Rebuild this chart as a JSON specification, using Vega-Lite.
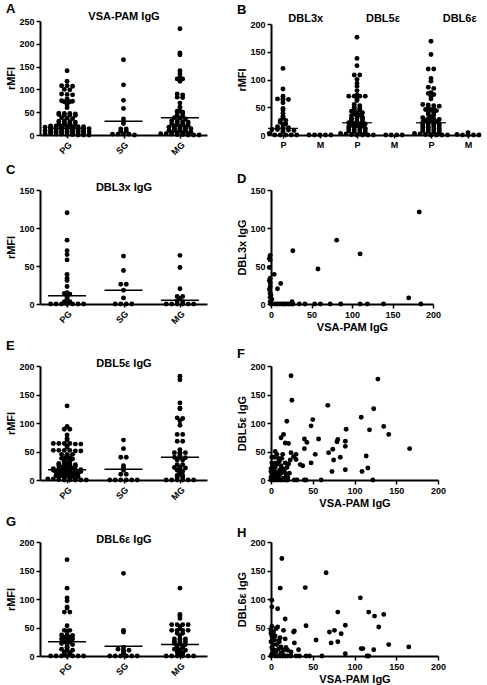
{
"$schema": "https://vega.github.io/schema/vega-lite/v6.json",
"autosize": {"type": "none"},
"padding": {"left": 40, "top": 14, "right": 447, "bottom": 671},
"columns": 2,
"spacing": {"row": 55, "column": 64},
"bounds": "flush",
"config": {
  "font": "Liberation Sans",
  "view": {"stroke": null},
  "axis": {"labelFontSize": 9, "labelFontWeight": "bold", "labelColor": "#000", "titleFontSize": 11, "titleFontWeight": "bold", "titleColor": "#000", "domainColor": "#000", "domainWidth": 2, "tickColor": "#000", "tickWidth": 1.5, "tickSize": 4, "grid": false, "labelPadding": 2, "titlePadding": 2, "labelOverlap": false, "labelFlush": false},
  "title": {"fontSize": 13, "fontWeight": "bold", "anchor": "start", "frame": "bounds", "offset": 0, "color": "#000"}
},
"datasets": {
"sw": [
{"p":"A","g":"PG","v":141},{"p":"A","g":"PG","v":118},{"p":"A","g":"PG","v":108},{"p":"A","g":"PG","v":108},{"p":"A","g":"PG","v":107},{"p":"A","g":"PG","v":100},{"p":"A","g":"PG","v":99},{"p":"A","g":"PG","v":90},{"p":"A","g":"PG","v":89},{"p":"A","g":"PG","v":88},{"p":"A","g":"PG","v":79},{"p":"A","g":"PG","v":75},{"p":"A","g":"PG","v":74},{"p":"A","g":"PG","v":74},{"p":"A","g":"PG","v":73},{"p":"A","g":"PG","v":73},{"p":"A","g":"PG","v":66},{"p":"A","g":"PG","v":60},{"p":"A","g":"PG","v":48},{"p":"A","g":"PG","v":47},{"p":"A","g":"PG","v":47},{"p":"A","g":"PG","v":46},{"p":"A","g":"PG","v":45},{"p":"A","g":"PG","v":44},{"p":"A","g":"PG","v":44},{"p":"A","g":"PG","v":43},{"p":"A","g":"PG","v":38},{"p":"A","g":"PG","v":37},{"p":"A","g":"PG","v":36},{"p":"A","g":"PG","v":30},{"p":"A","g":"PG","v":30},{"p":"A","g":"PG","v":29},{"p":"A","g":"PG","v":28},{"p":"A","g":"PG","v":26},{"p":"A","g":"PG","v":25},{"p":"A","g":"PG","v":24},{"p":"A","g":"PG","v":23},{"p":"A","g":"PG","v":22},{"p":"A","g":"PG","v":21},{"p":"A","g":"PG","v":20},{"p":"A","g":"PG","v":20},{"p":"A","g":"PG","v":19},{"p":"A","g":"PG","v":19},{"p":"A","g":"PG","v":18},{"p":"A","g":"PG","v":18},{"p":"A","g":"PG","v":18},{"p":"A","g":"PG","v":17},{"p":"A","g":"PG","v":17},{"p":"A","g":"PG","v":16},{"p":"A","g":"PG","v":16},{"p":"A","g":"PG","v":16},{"p":"A","g":"PG","v":15},{"p":"A","g":"PG","v":15},{"p":"A","g":"PG","v":14},{"p":"A","g":"PG","v":14},{"p":"A","g":"PG","v":13},{"p":"A","g":"PG","v":13},{"p":"A","g":"PG","v":12},{"p":"A","g":"PG","v":12},{"p":"A","g":"PG","v":12},{"p":"A","g":"PG","v":11},{"p":"A","g":"PG","v":11},{"p":"A","g":"PG","v":10},{"p":"A","g":"PG","v":10},{"p":"A","g":"PG","v":9},{"p":"A","g":"PG","v":9},{"p":"A","g":"PG","v":8},{"p":"A","g":"PG","v":8},{"p":"A","g":"PG","v":8},{"p":"A","g":"PG","v":7},{"p":"A","g":"PG","v":7},{"p":"A","g":"PG","v":6},{"p":"A","g":"PG","v":6},{"p":"A","g":"PG","v":5},{"p":"A","g":"PG","v":5},{"p":"A","g":"PG","v":4},{"p":"A","g":"PG","v":4},{"p":"A","g":"PG","v":4},{"p":"A","g":"PG","v":3},{"p":"A","g":"PG","v":3},{"p":"A","g":"PG","v":2},{"p":"A","g":"PG","v":2},{"p":"A","g":"PG","v":1},{"p":"A","g":"PG","v":1},{"p":"A","g":"PG","v":0},{"p":"A","g":"PG","v":0},{"p":"A","g":"PG","v":0},
{"p":"A","g":"SG","v":165},{"p":"A","g":"SG","v":110},{"p":"A","g":"SG","v":76},{"p":"A","g":"SG","v":58},{"p":"A","g":"SG","v":35},{"p":"A","g":"SG","v":29},{"p":"A","g":"SG","v":25},{"p":"A","g":"SG","v":13},{"p":"A","g":"SG","v":13},{"p":"A","g":"SG","v":8},{"p":"A","g":"SG","v":8},{"p":"A","g":"SG","v":2},{"p":"A","g":"SG","v":2},{"p":"A","g":"SG","v":2},{"p":"A","g":"SG","v":2},{"p":"A","g":"SG","v":0},
{"p":"A","g":"MG","v":233},{"p":"A","g":"MG","v":180},{"p":"A","g":"MG","v":176},{"p":"A","g":"MG","v":141},{"p":"A","g":"MG","v":134},{"p":"A","g":"MG","v":127},{"p":"A","g":"MG","v":123},{"p":"A","g":"MG","v":123},{"p":"A","g":"MG","v":118},{"p":"A","g":"MG","v":90},{"p":"A","g":"MG","v":88},{"p":"A","g":"MG","v":83},{"p":"A","g":"MG","v":82},{"p":"A","g":"MG","v":70},{"p":"A","g":"MG","v":61},{"p":"A","g":"MG","v":53},{"p":"A","g":"MG","v":52},{"p":"A","g":"MG","v":50},{"p":"A","g":"MG","v":48},{"p":"A","g":"MG","v":48},{"p":"A","g":"MG","v":44},{"p":"A","g":"MG","v":42},{"p":"A","g":"MG","v":38},{"p":"A","g":"MG","v":37},{"p":"A","g":"MG","v":35},{"p":"A","g":"MG","v":31},{"p":"A","g":"MG","v":30},{"p":"A","g":"MG","v":29},{"p":"A","g":"MG","v":28},{"p":"A","g":"MG","v":27},{"p":"A","g":"MG","v":25},{"p":"A","g":"MG","v":24},{"p":"A","g":"MG","v":23},{"p":"A","g":"MG","v":22},{"p":"A","g":"MG","v":21},{"p":"A","g":"MG","v":20},{"p":"A","g":"MG","v":19},{"p":"A","g":"MG","v":18},{"p":"A","g":"MG","v":17},{"p":"A","g":"MG","v":16},{"p":"A","g":"MG","v":15},{"p":"A","g":"MG","v":15},{"p":"A","g":"MG","v":14},{"p":"A","g":"MG","v":13},{"p":"A","g":"MG","v":12},{"p":"A","g":"MG","v":11},{"p":"A","g":"MG","v":10},{"p":"A","g":"MG","v":10},{"p":"A","g":"MG","v":9},{"p":"A","g":"MG","v":8},{"p":"A","g":"MG","v":7},{"p":"A","g":"MG","v":6},{"p":"A","g":"MG","v":5},{"p":"A","g":"MG","v":5},{"p":"A","g":"MG","v":4},{"p":"A","g":"MG","v":3},{"p":"A","g":"MG","v":3},{"p":"A","g":"MG","v":2},{"p":"A","g":"MG","v":1},{"p":"A","g":"MG","v":1},{"p":"A","g":"MG","v":0},{"p":"A","g":"MG","v":0},{"p":"A","g":"MG","v":0},
{"p":"B","g":"DBL3x P","v":120},{"p":"B","g":"DBL3x P","v":83},{"p":"B","g":"DBL3x P","v":70},{"p":"B","g":"DBL3x P","v":65},{"p":"B","g":"DBL3x P","v":65},{"p":"B","g":"DBL3x P","v":64},{"p":"B","g":"DBL3x P","v":63},{"p":"B","g":"DBL3x P","v":58},{"p":"B","g":"DBL3x P","v":48},{"p":"B","g":"DBL3x P","v":45},{"p":"B","g":"DBL3x P","v":39},{"p":"B","g":"DBL3x P","v":34},{"p":"B","g":"DBL3x P","v":31},{"p":"B","g":"DBL3x P","v":26},{"p":"B","g":"DBL3x P","v":26},{"p":"B","g":"DBL3x P","v":23},{"p":"B","g":"DBL3x P","v":20},{"p":"B","g":"DBL3x P","v":19},{"p":"B","g":"DBL3x P","v":15},{"p":"B","g":"DBL3x P","v":14},{"p":"B","g":"DBL3x P","v":13},{"p":"B","g":"DBL3x P","v":10},{"p":"B","g":"DBL3x P","v":10},{"p":"B","g":"DBL3x P","v":9},{"p":"B","g":"DBL3x P","v":9},{"p":"B","g":"DBL3x P","v":8},{"p":"B","g":"DBL3x P","v":6},{"p":"B","g":"DBL3x P","v":3},{"p":"B","g":"DBL3x P","v":0},{"p":"B","g":"DBL3x P","v":0},{"p":"B","g":"DBL3x P","v":0},{"p":"B","g":"DBL3x P","v":0},{"p":"B","g":"DBL3x P","v":0},
{"p":"B","g":"DBL3x M","v":0},{"p":"B","g":"DBL3x M","v":0},{"p":"B","g":"DBL3x M","v":0},{"p":"B","g":"DBL3x M","v":0},{"p":"B","g":"DBL3x M","v":0},
{"p":"B","g":"DBL5ε P","v":176},{"p":"B","g":"DBL5ε P","v":138},{"p":"B","g":"DBL5ε P","v":125},{"p":"B","g":"DBL5ε P","v":108},{"p":"B","g":"DBL5ε P","v":108},{"p":"B","g":"DBL5ε P","v":100},{"p":"B","g":"DBL5ε P","v":93},{"p":"B","g":"DBL5ε P","v":88},{"p":"B","g":"DBL5ε P","v":80},{"p":"B","g":"DBL5ε P","v":72},{"p":"B","g":"DBL5ε P","v":70},{"p":"B","g":"DBL5ε P","v":70},{"p":"B","g":"DBL5ε P","v":70},{"p":"B","g":"DBL5ε P","v":70},{"p":"B","g":"DBL5ε P","v":65},{"p":"B","g":"DBL5ε P","v":62},{"p":"B","g":"DBL5ε P","v":55},{"p":"B","g":"DBL5ε P","v":53},{"p":"B","g":"DBL5ε P","v":50},{"p":"B","g":"DBL5ε P","v":48},{"p":"B","g":"DBL5ε P","v":46},{"p":"B","g":"DBL5ε P","v":45},{"p":"B","g":"DBL5ε P","v":43},{"p":"B","g":"DBL5ε P","v":40},{"p":"B","g":"DBL5ε P","v":40},{"p":"B","g":"DBL5ε P","v":38},{"p":"B","g":"DBL5ε P","v":36},{"p":"B","g":"DBL5ε P","v":35},{"p":"B","g":"DBL5ε P","v":34},{"p":"B","g":"DBL5ε P","v":32},{"p":"B","g":"DBL5ε P","v":30},{"p":"B","g":"DBL5ε P","v":30},{"p":"B","g":"DBL5ε P","v":28},{"p":"B","g":"DBL5ε P","v":27},{"p":"B","g":"DBL5ε P","v":25},{"p":"B","g":"DBL5ε P","v":24},{"p":"B","g":"DBL5ε P","v":22},{"p":"B","g":"DBL5ε P","v":21},{"p":"B","g":"DBL5ε P","v":20},{"p":"B","g":"DBL5ε P","v":20},{"p":"B","g":"DBL5ε P","v":18},{"p":"B","g":"DBL5ε P","v":17},{"p":"B","g":"DBL5ε P","v":16},{"p":"B","g":"DBL5ε P","v":15},{"p":"B","g":"DBL5ε P","v":14},{"p":"B","g":"DBL5ε P","v":13},{"p":"B","g":"DBL5ε P","v":12},{"p":"B","g":"DBL5ε P","v":11},{"p":"B","g":"DBL5ε P","v":10},{"p":"B","g":"DBL5ε P","v":9},{"p":"B","g":"DBL5ε P","v":8},{"p":"B","g":"DBL5ε P","v":7},{"p":"B","g":"DBL5ε P","v":6},{"p":"B","g":"DBL5ε P","v":5},{"p":"B","g":"DBL5ε P","v":4},{"p":"B","g":"DBL5ε P","v":3},{"p":"B","g":"DBL5ε P","v":2},{"p":"B","g":"DBL5ε P","v":1},{"p":"B","g":"DBL5ε P","v":0},{"p":"B","g":"DBL5ε P","v":0},{"p":"B","g":"DBL5ε P","v":0},{"p":"B","g":"DBL5ε P","v":0},
{"p":"B","g":"DBL5ε M","v":0},{"p":"B","g":"DBL5ε M","v":0},{"p":"B","g":"DBL5ε M","v":0},{"p":"B","g":"DBL5ε M","v":0},
{"p":"B","g":"DBL6ε P","v":169},{"p":"B","g":"DBL6ε P","v":145},{"p":"B","g":"DBL6ε P","v":119},{"p":"B","g":"DBL6ε P","v":119},{"p":"B","g":"DBL6ε P","v":102},{"p":"B","g":"DBL6ε P","v":97},{"p":"B","g":"DBL6ε P","v":86},{"p":"B","g":"DBL6ε P","v":84},{"p":"B","g":"DBL6ε P","v":76},{"p":"B","g":"DBL6ε P","v":75},{"p":"B","g":"DBL6ε P","v":73},{"p":"B","g":"DBL6ε P","v":70},{"p":"B","g":"DBL6ε P","v":65},{"p":"B","g":"DBL6ε P","v":55},{"p":"B","g":"DBL6ε P","v":54},{"p":"B","g":"DBL6ε P","v":53},{"p":"B","g":"DBL6ε P","v":52},{"p":"B","g":"DBL6ε P","v":50},{"p":"B","g":"DBL6ε P","v":48},{"p":"B","g":"DBL6ε P","v":46},{"p":"B","g":"DBL6ε P","v":45},{"p":"B","g":"DBL6ε P","v":44},{"p":"B","g":"DBL6ε P","v":42},{"p":"B","g":"DBL6ε P","v":40},{"p":"B","g":"DBL6ε P","v":38},{"p":"B","g":"DBL6ε P","v":36},{"p":"B","g":"DBL6ε P","v":33},{"p":"B","g":"DBL6ε P","v":31},{"p":"B","g":"DBL6ε P","v":30},{"p":"B","g":"DBL6ε P","v":29},{"p":"B","g":"DBL6ε P","v":28},{"p":"B","g":"DBL6ε P","v":26},{"p":"B","g":"DBL6ε P","v":25},{"p":"B","g":"DBL6ε P","v":24},{"p":"B","g":"DBL6ε P","v":23},{"p":"B","g":"DBL6ε P","v":22},{"p":"B","g":"DBL6ε P","v":21},{"p":"B","g":"DBL6ε P","v":20},{"p":"B","g":"DBL6ε P","v":19},{"p":"B","g":"DBL6ε P","v":18},{"p":"B","g":"DBL6ε P","v":17},{"p":"B","g":"DBL6ε P","v":16},{"p":"B","g":"DBL6ε P","v":15},{"p":"B","g":"DBL6ε P","v":14},{"p":"B","g":"DBL6ε P","v":13},{"p":"B","g":"DBL6ε P","v":12},{"p":"B","g":"DBL6ε P","v":11},{"p":"B","g":"DBL6ε P","v":10},{"p":"B","g":"DBL6ε P","v":9},{"p":"B","g":"DBL6ε P","v":8},{"p":"B","g":"DBL6ε P","v":7},{"p":"B","g":"DBL6ε P","v":6},{"p":"B","g":"DBL6ε P","v":5},{"p":"B","g":"DBL6ε P","v":4},{"p":"B","g":"DBL6ε P","v":3},{"p":"B","g":"DBL6ε P","v":2},{"p":"B","g":"DBL6ε P","v":1},{"p":"B","g":"DBL6ε P","v":0},{"p":"B","g":"DBL6ε P","v":0},{"p":"B","g":"DBL6ε P","v":0},{"p":"B","g":"DBL6ε P","v":0},
{"p":"B","g":"DBL6ε M","v":4},{"p":"B","g":"DBL6ε M","v":1},{"p":"B","g":"DBL6ε M","v":0},{"p":"B","g":"DBL6ε M","v":0},{"p":"B","g":"DBL6ε M","v":0},{"p":"B","g":"DBL6ε M","v":0},
{"p":"C","g":"PG","v":120},{"p":"C","g":"PG","v":84},{"p":"C","g":"PG","v":70},{"p":"C","g":"PG","v":65},{"p":"C","g":"PG","v":58},{"p":"C","g":"PG","v":39},{"p":"C","g":"PG","v":34},{"p":"C","g":"PG","v":31},{"p":"C","g":"PG","v":23},{"p":"C","g":"PG","v":15},{"p":"C","g":"PG","v":14},{"p":"C","g":"PG","v":13},{"p":"C","g":"PG","v":10},{"p":"C","g":"PG","v":8},{"p":"C","g":"PG","v":6},{"p":"C","g":"PG","v":3},{"p":"C","g":"PG","v":3},{"p":"C","g":"PG","v":0},{"p":"C","g":"PG","v":0},{"p":"C","g":"PG","v":0},{"p":"C","g":"PG","v":0},{"p":"C","g":"PG","v":0},{"p":"C","g":"PG","v":0},{"p":"C","g":"PG","v":0},
{"p":"C","g":"SG","v":63},{"p":"C","g":"SG","v":44},{"p":"C","g":"SG","v":26},{"p":"C","g":"SG","v":26},{"p":"C","g":"SG","v":18},{"p":"C","g":"SG","v":8},{"p":"C","g":"SG","v":0},{"p":"C","g":"SG","v":0},{"p":"C","g":"SG","v":0},{"p":"C","g":"SG","v":0},
{"p":"C","g":"MG","v":64},{"p":"C","g":"MG","v":48},{"p":"C","g":"MG","v":20},{"p":"C","g":"MG","v":10},{"p":"C","g":"MG","v":10},{"p":"C","g":"MG","v":7},{"p":"C","g":"MG","v":4},{"p":"C","g":"MG","v":3},{"p":"C","g":"MG","v":0},{"p":"C","g":"MG","v":0},{"p":"C","g":"MG","v":0},{"p":"C","g":"MG","v":0},{"p":"C","g":"MG","v":0},{"p":"C","g":"MG","v":0},
{"p":"E","g":"PG","v":130},{"p":"E","g":"PG","v":94},{"p":"E","g":"PG","v":89},{"p":"E","g":"PG","v":89},{"p":"E","g":"PG","v":79},{"p":"E","g":"PG","v":73},{"p":"E","g":"PG","v":70},{"p":"E","g":"PG","v":64},{"p":"E","g":"PG","v":64},{"p":"E","g":"PG","v":64},{"p":"E","g":"PG","v":64},{"p":"E","g":"PG","v":63},{"p":"E","g":"PG","v":63},{"p":"E","g":"PG","v":60},{"p":"E","g":"PG","v":58},{"p":"E","g":"PG","v":52},{"p":"E","g":"PG","v":52},{"p":"E","g":"PG","v":52},{"p":"E","g":"PG","v":52},{"p":"E","g":"PG","v":51},{"p":"E","g":"PG","v":51},{"p":"E","g":"PG","v":45},{"p":"E","g":"PG","v":45},{"p":"E","g":"PG","v":45},{"p":"E","g":"PG","v":44},{"p":"E","g":"PG","v":39},{"p":"E","g":"PG","v":39},{"p":"E","g":"PG","v":38},{"p":"E","g":"PG","v":38},{"p":"E","g":"PG","v":37},{"p":"E","g":"PG","v":33},{"p":"E","g":"PG","v":33},{"p":"E","g":"PG","v":30},{"p":"E","g":"PG","v":29},{"p":"E","g":"PG","v":28},{"p":"E","g":"PG","v":28},{"p":"E","g":"PG","v":27},{"p":"E","g":"PG","v":26},{"p":"E","g":"PG","v":25},{"p":"E","g":"PG","v":24},{"p":"E","g":"PG","v":24},{"p":"E","g":"PG","v":23},{"p":"E","g":"PG","v":22},{"p":"E","g":"PG","v":21},{"p":"E","g":"PG","v":20},{"p":"E","g":"PG","v":20},{"p":"E","g":"PG","v":19},{"p":"E","g":"PG","v":19},{"p":"E","g":"PG","v":18},{"p":"E","g":"PG","v":18},{"p":"E","g":"PG","v":17},{"p":"E","g":"PG","v":17},{"p":"E","g":"PG","v":16},{"p":"E","g":"PG","v":16},{"p":"E","g":"PG","v":15},{"p":"E","g":"PG","v":15},{"p":"E","g":"PG","v":14},{"p":"E","g":"PG","v":14},{"p":"E","g":"PG","v":13},{"p":"E","g":"PG","v":12},{"p":"E","g":"PG","v":12},{"p":"E","g":"PG","v":11},{"p":"E","g":"PG","v":10},{"p":"E","g":"PG","v":10},{"p":"E","g":"PG","v":9},{"p":"E","g":"PG","v":8},{"p":"E","g":"PG","v":8},{"p":"E","g":"PG","v":7},{"p":"E","g":"PG","v":6},{"p":"E","g":"PG","v":6},{"p":"E","g":"PG","v":5},{"p":"E","g":"PG","v":4},{"p":"E","g":"PG","v":4},{"p":"E","g":"PG","v":3},{"p":"E","g":"PG","v":2},{"p":"E","g":"PG","v":2},{"p":"E","g":"PG","v":1},{"p":"E","g":"PG","v":0},{"p":"E","g":"PG","v":0},{"p":"E","g":"PG","v":0},{"p":"E","g":"PG","v":0},{"p":"E","g":"PG","v":0},
{"p":"E","g":"SG","v":70},{"p":"E","g":"SG","v":55},{"p":"E","g":"SG","v":40},{"p":"E","g":"SG","v":40},{"p":"E","g":"SG","v":25},{"p":"E","g":"SG","v":22},{"p":"E","g":"SG","v":17},{"p":"E","g":"SG","v":10},{"p":"E","g":"SG","v":10},{"p":"E","g":"SG","v":0},{"p":"E","g":"SG","v":0},{"p":"E","g":"SG","v":0},{"p":"E","g":"SG","v":0},{"p":"E","g":"SG","v":0},{"p":"E","g":"SG","v":0},
{"p":"E","g":"MG","v":182},{"p":"E","g":"MG","v":176},{"p":"E","g":"MG","v":135},{"p":"E","g":"MG","v":126},{"p":"E","g":"MG","v":125},{"p":"E","g":"MG","v":109},{"p":"E","g":"MG","v":108},{"p":"E","g":"MG","v":104},{"p":"E","g":"MG","v":96},{"p":"E","g":"MG","v":80},{"p":"E","g":"MG","v":80},{"p":"E","g":"MG","v":68},{"p":"E","g":"MG","v":68},{"p":"E","g":"MG","v":53},{"p":"E","g":"MG","v":48},{"p":"E","g":"MG","v":48},{"p":"E","g":"MG","v":48},{"p":"E","g":"MG","v":47},{"p":"E","g":"MG","v":43},{"p":"E","g":"MG","v":40},{"p":"E","g":"MG","v":40},{"p":"E","g":"MG","v":39},{"p":"E","g":"MG","v":35},{"p":"E","g":"MG","v":35},{"p":"E","g":"MG","v":27},{"p":"E","g":"MG","v":27},{"p":"E","g":"MG","v":22},{"p":"E","g":"MG","v":22},{"p":"E","g":"MG","v":21},{"p":"E","g":"MG","v":20},{"p":"E","g":"MG","v":17},{"p":"E","g":"MG","v":15},{"p":"E","g":"MG","v":14},{"p":"E","g":"MG","v":10},{"p":"E","g":"MG","v":8},{"p":"E","g":"MG","v":8},{"p":"E","g":"MG","v":5},{"p":"E","g":"MG","v":4},{"p":"E","g":"MG","v":0},{"p":"E","g":"MG","v":0},{"p":"E","g":"MG","v":0},{"p":"E","g":"MG","v":0},{"p":"E","g":"MG","v":0},{"p":"E","g":"MG","v":0},
{"p":"G","g":"PG","v":169},{"p":"G","g":"PG","v":119},{"p":"G","g":"PG","v":102},{"p":"G","g":"PG","v":97},{"p":"G","g":"PG","v":86},{"p":"G","g":"PG","v":84},{"p":"G","g":"PG","v":77},{"p":"G","g":"PG","v":77},{"p":"G","g":"PG","v":53},{"p":"G","g":"PG","v":45},{"p":"G","g":"PG","v":45},{"p":"G","g":"PG","v":44},{"p":"G","g":"PG","v":37},{"p":"G","g":"PG","v":37},{"p":"G","g":"PG","v":36},{"p":"G","g":"PG","v":33},{"p":"G","g":"PG","v":33},{"p":"G","g":"PG","v":30},{"p":"G","g":"PG","v":30},{"p":"G","g":"PG","v":30},{"p":"G","g":"PG","v":25},{"p":"G","g":"PG","v":25},{"p":"G","g":"PG","v":22},{"p":"G","g":"PG","v":22},{"p":"G","g":"PG","v":20},{"p":"G","g":"PG","v":18},{"p":"G","g":"PG","v":15},{"p":"G","g":"PG","v":14},{"p":"G","g":"PG","v":12},{"p":"G","g":"PG","v":10},{"p":"G","g":"PG","v":10},{"p":"G","g":"PG","v":7},{"p":"G","g":"PG","v":6},{"p":"G","g":"PG","v":4},{"p":"G","g":"PG","v":3},{"p":"G","g":"PG","v":0},{"p":"G","g":"PG","v":0},{"p":"G","g":"PG","v":0},{"p":"G","g":"PG","v":0},{"p":"G","g":"PG","v":0},{"p":"G","g":"PG","v":0},{"p":"G","g":"PG","v":0},
{"p":"G","g":"SG","v":145},{"p":"G","g":"SG","v":45},{"p":"G","g":"SG","v":42},{"p":"G","g":"SG","v":15},{"p":"G","g":"SG","v":12},{"p":"G","g":"SG","v":10},{"p":"G","g":"SG","v":10},{"p":"G","g":"SG","v":8},{"p":"G","g":"SG","v":5},{"p":"G","g":"SG","v":0},{"p":"G","g":"SG","v":0},{"p":"G","g":"SG","v":0},{"p":"G","g":"SG","v":0},{"p":"G","g":"SG","v":0},{"p":"G","g":"SG","v":0},
{"p":"G","g":"MG","v":119},{"p":"G","g":"MG","v":73},{"p":"G","g":"MG","v":70},{"p":"G","g":"MG","v":66},{"p":"G","g":"MG","v":55},{"p":"G","g":"MG","v":55},{"p":"G","g":"MG","v":55},{"p":"G","g":"MG","v":55},{"p":"G","g":"MG","v":52},{"p":"G","g":"MG","v":48},{"p":"G","g":"MG","v":45},{"p":"G","g":"MG","v":45},{"p":"G","g":"MG","v":45},{"p":"G","g":"MG","v":45},{"p":"G","g":"MG","v":40},{"p":"G","g":"MG","v":40},{"p":"G","g":"MG","v":36},{"p":"G","g":"MG","v":30},{"p":"G","g":"MG","v":30},{"p":"G","g":"MG","v":30},{"p":"G","g":"MG","v":28},{"p":"G","g":"MG","v":25},{"p":"G","g":"MG","v":25},{"p":"G","g":"MG","v":25},{"p":"G","g":"MG","v":22},{"p":"G","g":"MG","v":22},{"p":"G","g":"MG","v":20},{"p":"G","g":"MG","v":18},{"p":"G","g":"MG","v":18},{"p":"G","g":"MG","v":15},{"p":"G","g":"MG","v":15},{"p":"G","g":"MG","v":12},{"p":"G","g":"MG","v":10},{"p":"G","g":"MG","v":10},{"p":"G","g":"MG","v":8},{"p":"G","g":"MG","v":7},{"p":"G","g":"MG","v":5},{"p":"G","g":"MG","v":3},{"p":"G","g":"MG","v":0},{"p":"G","g":"MG","v":0},{"p":"G","g":"MG","v":0},{"p":"G","g":"MG","v":0},{"p":"G","g":"MG","v":0},{"p":"G","g":"MG","v":0},
{"p":"A","g":"PG","v":15,"k":"median"},{"p":"A","g":"SG","v":30,"k":"median"},{"p":"A","g":"MG","v":38,"k":"median"},
{"p":"B","g":"DBL3x P","v":12,"k":"median"},{"p":"B","g":"DBL5ε P","v":22,"k":"median"},{"p":"B","g":"DBL6ε P","v":22,"k":"median"},
{"p":"C","g":"PG","v":11,"k":"median"},{"p":"C","g":"SG","v":18,"k":"median"},{"p":"C","g":"MG","v":5,"k":"median"},
{"p":"E","g":"PG","v":18,"k":"median"},{"p":"E","g":"SG","v":19,"k":"median"},{"p":"E","g":"MG","v":40,"k":"median"},
{"p":"G","g":"PG","v":25,"k":"median"},{"p":"G","g":"SG","v":17,"k":"median"},{"p":"G","g":"MG","v":20,"k":"median"}
],
"sc": [
{"p":"D","x":183,"y":121},{"p":"D","x":81,"y":84},{"p":"D","x":27,"y":70},{"p":"D","x":110,"y":66},{"p":"D","x":58,"y":46},{"p":"D","x":4,"y":39},{"p":"D","x":12,"y":27},{"p":"D","x":8,"y":20},{"p":"D","x":170,"y":8},{"p":"D","x":26,"y":3},
{"p":"D","x":-1,"y":64},{"p":"D","x":-2,"y":60},{"p":"D","x":-1,"y":58},{"p":"D","x":-2,"y":48},{"p":"D","x":-1,"y":34},{"p":"D","x":-2,"y":31},{"p":"D","x":-1,"y":28},{"p":"D","x":-1,"y":23},{"p":"D","x":-2,"y":19},{"p":"D","x":-1,"y":14},{"p":"D","x":0,"y":12},{"p":"D","x":-1,"y":9},{"p":"D","x":1,"y":6},{"p":"D","x":-1,"y":3},{"p":"D","x":0,"y":1},
{"p":"D","x":0,"y":0},{"p":"D","x":1,"y":0},{"p":"D","x":5,"y":0},{"p":"D","x":8,"y":0},{"p":"D","x":11,"y":0},{"p":"D","x":14,"y":0},{"p":"D","x":16,"y":0},{"p":"D","x":19,"y":0},{"p":"D","x":22,"y":0},{"p":"D","x":25,"y":0},{"p":"D","x":27,"y":0},{"p":"D","x":35,"y":0},{"p":"D","x":42,"y":0},{"p":"D","x":54,"y":0},{"p":"D","x":61,"y":0},{"p":"D","x":73,"y":0},{"p":"D","x":86,"y":0},{"p":"D","x":110,"y":0},{"p":"D","x":119,"y":0},{"p":"D","x":139,"y":0},{"p":"D","x":185,"y":0},
{"p":"F","x":24,"y":183},{"p":"F","x":128,"y":177},{"p":"F","x":25,"y":140},{"p":"F","x":68,"y":131},{"p":"F","x":123,"y":125},{"p":"F","x":108,"y":110},{"p":"F","x":50,"y":106},{"p":"F","x":19,"y":103},{"p":"F","x":48,"y":95},{"p":"F","x":135,"y":94},{"p":"F","x":90,"y":89},{"p":"F","x":118,"y":88},{"p":"F","x":141,"y":80},{"p":"F","x":15,"y":80},{"p":"F","x":12,"y":74},{"p":"F","x":40,"y":72},{"p":"F","x":57,"y":72},{"p":"F","x":80,"y":71},{"p":"F","x":79,"y":67},{"p":"F","x":43,"y":66},{"p":"F","x":17,"y":65},{"p":"F","x":21,"y":64},{"p":"F","x":89,"y":68},{"p":"F","x":89,"y":59},{"p":"F","x":74,"y":54},{"p":"F","x":40,"y":55},{"p":"F","x":166,"y":55},{"p":"F","x":5,"y":50},{"p":"F","x":69,"y":48},{"p":"F","x":53,"y":45},{"p":"F","x":24,"y":48},{"p":"F","x":30,"y":45},{"p":"F","x":27,"y":41},{"p":"F","x":114,"y":42},{"p":"F","x":83,"y":40},{"p":"F","x":14,"y":45},{"p":"F","x":75,"y":35},{"p":"F","x":30,"y":36},{"p":"F","x":4,"y":40},{"p":"F","x":35,"y":27},{"p":"F","x":38,"y":25},{"p":"F","x":48,"y":30},{"p":"F","x":116,"y":21},{"p":"F","x":89,"y":18},{"p":"F","x":73,"y":15},{"p":"F","x":109,"y":15},{"p":"F","x":19,"y":9},{"p":"F","x":122,"y":0},{"p":"F","x":60,"y":0},{"p":"F","x":42,"y":0},{"p":"F","x":40,"y":0},{"p":"F","x":31,"y":0},{"p":"F","x":28,"y":0},{"p":"F","x":20,"y":0},
{"p":"F","x":1,"y":30},{"p":"F","x":2,"y":25},{"p":"F","x":3,"y":20},{"p":"F","x":4,"y":15},{"p":"F","x":5,"y":10},{"p":"F","x":6,"y":5},{"p":"F","x":7,"y":2},{"p":"F","x":1,"y":12},{"p":"F","x":2,"y":8},{"p":"F","x":3,"y":3},{"p":"F","x":0,"y":0},{"p":"F","x":1,"y":1},{"p":"F","x":2,"y":18},{"p":"F","x":5,"y":22},{"p":"F","x":8,"y":28},{"p":"F","x":10,"y":33},{"p":"F","x":12,"y":25},{"p":"F","x":14,"y":20},{"p":"F","x":16,"y":15},{"p":"F","x":18,"y":10},{"p":"F","x":20,"y":5},{"p":"F","x":22,"y":12},{"p":"F","x":15,"y":3},{"p":"F","x":10,"y":8},{"p":"F","x":8,"y":14},{"p":"F","x":6,"y":30},{"p":"F","x":11,"y":18},{"p":"F","x":13,"y":38},{"p":"F","x":17,"y":30},{"p":"F","x":19,"y":22},{"p":"F","x":21,"y":28},{"p":"F","x":23,"y":35},{"p":"F","x":9,"y":2},{"p":"F","x":12,"y":12},{"p":"F","x":4,"y":6},{"p":"F","x":3,"y":0},{"p":"F","x":6,"y":0},{"p":"F","x":9,"y":0},{"p":"F","x":12,"y":0},{"p":"F","x":15,"y":0},{"p":"F","x":18,"y":0},{"p":"F","x":0,"y":5},{"p":"F","x":0,"y":15},{"p":"F","x":0,"y":20},{"p":"F","x":1,"y":40},{"p":"F","x":7,"y":45},{"p":"F","x":9,"y":38},
{"p":"H","x":13,"y":171},{"p":"H","x":66,"y":146},{"p":"H","x":11,"y":119},{"p":"H","x":41,"y":120},{"p":"H","x":107,"y":102},{"p":"H","x":8,"y":83},{"p":"H","x":1,"y":98},{"p":"H","x":1,"y":86},{"p":"H","x":80,"y":77},{"p":"H","x":117,"y":77},{"p":"H","x":124,"y":70},{"p":"H","x":135,"y":73},{"p":"H","x":17,"y":65},{"p":"H","x":42,"y":53},{"p":"H","x":89,"y":54},{"p":"H","x":129,"y":51},{"p":"H","x":8,"y":51},{"p":"H","x":1,"y":52},{"p":"H","x":15,"y":45},{"p":"H","x":28,"y":44},{"p":"H","x":27,"y":42},{"p":"H","x":76,"y":45},{"p":"H","x":70,"y":42},{"p":"H","x":84,"y":39},{"p":"H","x":17,"y":30},{"p":"H","x":54,"y":28},{"p":"H","x":72,"y":23},{"p":"H","x":80,"y":25},{"p":"H","x":28,"y":23},{"p":"H","x":141,"y":20},{"p":"H","x":165,"y":16},{"p":"H","x":9,"y":27},{"p":"H","x":108,"y":13},{"p":"H","x":110,"y":13},{"p":"H","x":123,"y":11},{"p":"H","x":89,"y":4},{"p":"H","x":115,"y":0},{"p":"H","x":117,"y":0},{"p":"H","x":61,"y":0},{"p":"H","x":42,"y":0},{"p":"H","x":46,"y":0},{"p":"H","x":30,"y":0},{"p":"H","x":34,"y":0},{"p":"H","x":24,"y":0},{"p":"H","x":33,"y":11},{"p":"H","x":24,"y":7},{"p":"H","x":20,"y":10},
{"p":"H","x":0,"y":45},{"p":"H","x":0,"y":40},{"p":"H","x":1,"y":35},{"p":"H","x":2,"y":30},{"p":"H","x":0,"y":25},{"p":"H","x":3,"y":20},{"p":"H","x":1,"y":15},{"p":"H","x":4,"y":10},{"p":"H","x":2,"y":5},{"p":"H","x":0,"y":0},{"p":"H","x":5,"y":0},{"p":"H","x":8,"y":0},{"p":"H","x":11,"y":0},{"p":"H","x":14,"y":0},{"p":"H","x":17,"y":0},{"p":"H","x":20,"y":0},{"p":"H","x":6,"y":8},{"p":"H","x":9,"y":12},{"p":"H","x":12,"y":16},{"p":"H","x":7,"y":20},{"p":"H","x":10,"y":25},{"p":"H","x":5,"y":35},{"p":"H","x":3,"y":42},{"p":"H","x":6,"y":48},{"p":"H","x":12,"y":5},{"p":"H","x":15,"y":10},{"p":"H","x":18,"y":15},{"p":"H","x":14,"y":3},{"p":"H","x":4,"y":28},{"p":"H","x":11,"y":32},{"p":"H","x":2,"y":12},{"p":"H","x":1,"y":3}
]
},
"concat": [
{
  "title": {"text": "A", "dy": 9},
  "width": 167, "height": 121,
  "data": {"name": "sw"},
  "transform": [
    {"filter": "datum.p == 'A'"},
    {"calculate": "floor(datum.v / 3.5)", "as": "b"},
    {"window": [{"op": "row_number", "as": "r"}], "groupby": ["k", "g", "b"]},
    {"joinaggregate": [{"op": "count", "as": "n"}], "groupby": ["k", "g", "b"]},
    {"calculate": "indexof(['PG','SG','MG'], datum.g) + (datum.r - (datum.n + 1) / 2) * 0.0975", "as": "xp"}
  ],
  "mark": {"type": "point", "filled": true, "color": "#000", "opacity": 1, "strokeWidth": 0},
  "encoding": {
    "x": {"field": "xp", "type": "quantitative", "scale": {"domain": [-0.48, 2.48], "nice": false, "zero": false}, "axis": {"values": [0, 1, 2], "labelExpr": "['PG','SG','MG'][datum.value]", "title": "VSA-PAM IgG", "titleX": 83.5, "titleY": -115.5, "titleAlign": "center", "titleBaseline": "alphabetic", "labelAngle": -45, "labelAlign": "right", "labelBaseline": "top", "tickSize": 3}},
    "y": {"field": "v", "type": "quantitative", "scale": {"domain": [0, 250], "range": [121, 7], "nice": false}, "axis": {"values": [0, 50, 100, 150, 200, 250], "title": "rMFI"}},
    "shape": {"condition": {"test": "datum.k == 'median'", "value": "M-1,-0.04H1V0.04H-1Z"}, "value": "circle"},
    "size": {"condition": {"test": "datum.k == 'median'", "value": 1444}, "value": 24}
  }
},
{
  "title": {"text": "B", "dy": 9},
  "width": 209, "height": 121,
  "data": {"name": "sw"},
  "transform": [
    {"filter": "datum.p == 'B'"},
    {"calculate": "floor(datum.v / 4)", "as": "b"},
    {"window": [{"op": "row_number", "as": "r"}], "groupby": ["k", "g", "b"]},
    {"joinaggregate": [{"op": "count", "as": "n"}], "groupby": ["k", "g", "b"]},
    {"calculate": "indexof(['DBL3x P','DBL3x M','DBL5ε P','DBL5ε M','DBL6ε P','DBL6ε M'], datum.g) + (datum.r - (datum.n + 1) / 2) * 0.1486", "as": "xp"}
  ],
  "mark": {"type": "point", "filled": true, "color": "#000", "opacity": 1, "strokeWidth": 0},
  "encoding": {
    "x": {"field": "xp", "type": "quantitative", "scale": {"domain": [-0.324, 5.324], "nice": false, "zero": false}, "axis": {"values": [0, 1, 2, 3, 4, 5], "labelExpr": "['P','M','P','M','P','M'][datum.value]", "title": "DBL3x\u00a0\u00a0\u00a0\u00a0\u00a0\u00a0\u00a0\u00a0\u00a0\u00a0\u00a0\u00a0\u00a0\u00a0DBL5ε\u00a0\u00a0\u00a0\u00a0\u00a0\u00a0\u00a0\u00a0\u00a0\u00a0\u00a0\u00a0\u00a0\u00a0DBL6ε", "titleX": 111, "titleY": -114, "titleAlign": "center", "titleBaseline": "alphabetic", "labelAngle": 0, "tickSize": 3}},
    "y": {"field": "v", "type": "quantitative", "scale": {"domain": [0, 200], "range": [121, 10], "nice": false}, "axis": {"values": [0, 50, 100, 150, 200], "title": "rMFI"}},
    "shape": {"condition": {"test": "datum.k == 'median'", "value": "M-1,-0.04H1V0.04H-1Z"}, "value": "circle"},
    "size": {"condition": {"test": "datum.k == 'median'", "value": 900}, "value": 24}
  }
},
{
  "title": {"text": "C"},
  "width": 167, "height": 121,
  "data": {"name": "sw"},
  "transform": [
    {"filter": "datum.p == 'C'"},
    {"calculate": "floor(datum.v / 2.5)", "as": "b"},
    {"window": [{"op": "row_number", "as": "r"}], "groupby": ["k", "g", "b"]},
    {"joinaggregate": [{"op": "count", "as": "n"}], "groupby": ["k", "g", "b"]},
    {"calculate": "indexof(['PG','SG','MG'], datum.g) + (datum.r - (datum.n + 1) / 2) * 0.0975", "as": "xp"}
  ],
  "mark": {"type": "point", "filled": true, "color": "#000", "opacity": 1, "strokeWidth": 0},
  "encoding": {
    "x": {"field": "xp", "type": "quantitative", "scale": {"domain": [-0.48, 2.48], "nice": false, "zero": false}, "axis": {"values": [0, 1, 2], "labelExpr": "['PG','SG','MG'][datum.value]", "title": "DBL3x IgG", "titleX": 83.5, "titleY": -114, "titleAlign": "center", "titleBaseline": "alphabetic", "labelAngle": -45, "labelAlign": "right", "labelBaseline": "top", "tickSize": 3, "offset": -7}},
    "y": {"field": "v", "type": "quantitative", "scale": {"domain": [0, 150], "range": [114, 0], "nice": false}, "axis": {"values": [0, 50, 100, 150], "title": "rMFI"}},
    "shape": {"condition": {"test": "datum.k == 'median'", "value": "M-1,-0.04H1V0.04H-1Z"}, "value": "circle"},
    "size": {"condition": {"test": "datum.k == 'median'", "value": 1444}, "value": 24}
  }
},
{
  "title": {"text": "D", "dy": 4},
  "width": 162, "height": 121,
  "data": {"name": "sc"},
  "transform": [{"filter": "datum.p == 'D'"}],
  "mark": {"type": "circle", "size": 24, "color": "#000", "opacity": 1},
  "encoding": {
    "x": {"field": "x", "type": "quantitative", "scale": {"domain": [0, 200], "nice": false}, "axis": {"values": [0, 50, 100, 150, 200], "title": "VSA-PAM IgG", "offset": -7}},
    "y": {"field": "y", "type": "quantitative", "scale": {"domain": [0, 150], "range": [114, 0], "nice": false}, "axis": {"values": [0, 50, 100, 150], "title": "DBL3x IgG"}}
  }
},
{
  "title": {"text": "E"},
  "width": 167, "height": 121,
  "data": {"name": "sw"},
  "transform": [
    {"filter": "datum.p == 'E'"},
    {"calculate": "floor(datum.v / 3)", "as": "b"},
    {"window": [{"op": "row_number", "as": "r"}], "groupby": ["k", "g", "b"]},
    {"joinaggregate": [{"op": "count", "as": "n"}], "groupby": ["k", "g", "b"]},
    {"calculate": "indexof(['PG','SG','MG'], datum.g) + (datum.r - (datum.n + 1) / 2) * 0.0975", "as": "xp"}
  ],
  "mark": {"type": "point", "filled": true, "color": "#000", "opacity": 1, "strokeWidth": 0},
  "encoding": {
    "x": {"field": "xp", "type": "quantitative", "scale": {"domain": [-0.48, 2.48], "nice": false, "zero": false}, "axis": {"values": [0, 1, 2], "labelExpr": "['PG','SG','MG'][datum.value]", "title": "DBL5ε IgG", "titleX": 83.5, "titleY": -114, "titleAlign": "center", "titleBaseline": "alphabetic", "labelAngle": -45, "labelAlign": "right", "labelBaseline": "top", "tickSize": 3, "offset": -7}},
    "y": {"field": "v", "type": "quantitative", "scale": {"domain": [0, 200], "range": [114, 0], "nice": false}, "axis": {"values": [0, 50, 100, 150, 200], "title": "rMFI"}},
    "shape": {"condition": {"test": "datum.k == 'median'", "value": "M-1,-0.04H1V0.04H-1Z"}, "value": "circle"},
    "size": {"condition": {"test": "datum.k == 'median'", "value": 1444}, "value": 24}
  }
},
{
  "title": {"text": "F", "dy": 3},
  "width": 167, "height": 121,
  "data": {"name": "sc"},
  "transform": [{"filter": "datum.p == 'F'"}],
  "mark": {"type": "circle", "size": 24, "color": "#000", "opacity": 1},
  "encoding": {
    "x": {"field": "x", "type": "quantitative", "scale": {"domain": [0, 200], "nice": false}, "axis": {"values": [0, 50, 100, 150, 200], "title": "VSA-PAM IgG", "offset": -7}},
    "y": {"field": "y", "type": "quantitative", "scale": {"domain": [0, 200], "range": [114, 0], "nice": false}, "axis": {"values": [0, 50, 100, 150, 200], "title": "DBL5ε IgG"}}
  }
},
{
  "title": {"text": "G"},
  "width": 167, "height": 121,
  "data": {"name": "sw"},
  "transform": [
    {"filter": "datum.p == 'G'"},
    {"calculate": "floor(datum.v / 2.5)", "as": "b"},
    {"window": [{"op": "row_number", "as": "r"}], "groupby": ["k", "g", "b"]},
    {"joinaggregate": [{"op": "count", "as": "n"}], "groupby": ["k", "g", "b"]},
    {"calculate": "indexof(['PG','SG','MG'], datum.g) + (datum.r - (datum.n + 1) / 2) * 0.0975", "as": "xp"}
  ],
  "mark": {"type": "point", "filled": true, "color": "#000", "opacity": 1, "strokeWidth": 0},
  "encoding": {
    "x": {"field": "xp", "type": "quantitative", "scale": {"domain": [-0.48, 2.48], "nice": false, "zero": false}, "axis": {"values": [0, 1, 2], "labelExpr": "['PG','SG','MG'][datum.value]", "title": "DBL6ε IgG", "titleX": 83.5, "titleY": -114, "titleAlign": "center", "titleBaseline": "alphabetic", "labelAngle": -45, "labelAlign": "right", "labelBaseline": "top", "tickSize": 3, "offset": -7}},
    "y": {"field": "v", "type": "quantitative", "scale": {"domain": [0, 200], "range": [114, 0], "nice": false}, "axis": {"values": [0, 50, 100, 150, 200], "title": "rMFI"}},
    "shape": {"condition": {"test": "datum.k == 'median'", "value": "M-1,-0.04H1V0.04H-1Z"}, "value": "circle"},
    "size": {"condition": {"test": "datum.k == 'median'", "value": 1444}, "value": 24}
  }
},
{
  "title": {"text": "H", "dy": 6},
  "width": 167, "height": 121,
  "data": {"name": "sc"},
  "transform": [{"filter": "datum.p == 'H'"}],
  "mark": {"type": "circle", "size": 24, "color": "#000", "opacity": 1},
  "encoding": {
    "x": {"field": "x", "type": "quantitative", "scale": {"domain": [0, 200], "nice": false}, "axis": {"values": [0, 50, 100, 150, 200], "title": "VSA-PAM IgG", "offset": -7}},
    "y": {"field": "y", "type": "quantitative", "scale": {"domain": [0, 200], "range": [114, 0], "nice": false}, "axis": {"values": [0, 50, 100, 150, 200], "title": "DBL6ε IgG"}}
  }
}
]
}
